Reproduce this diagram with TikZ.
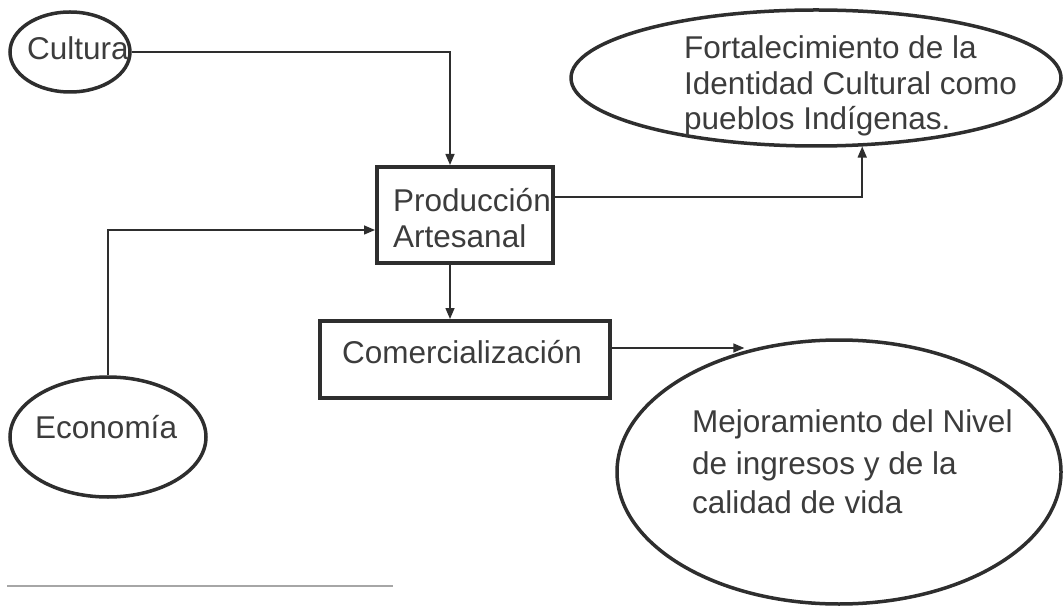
\documentclass[tikz,border=0pt]{standalone}
\usepackage{fontspec}
\setmainfont{Liberation Sans}
\usetikzlibrary{shapes.geometric,arrows.meta}
\definecolor{ink}{HTML}{2E2E2E}
\definecolor{txt}{HTML}{3C3C3C}
\begin{document}
\begin{tikzpicture}[x=1pt,y=-1pt,
  every node/.style={inner sep=0pt},
  oval/.style={ellipse,draw=ink,line width=3.5pt},
  boxnode/.style={rectangle,draw=ink,line width=4pt},
  lbl/.style={anchor=base west,text=txt,font=\fontsize{31.5}{35}\selectfont},
  conn/.style={draw=ink,line width=1.5pt,-{Triangle[length=11pt,width=9pt]}},
  rule/.style={draw=gray!70,line width=1.5pt}]
\useasboundingbox (0,0) rectangle (1064,609);
% shapes
\node[oval,minimum width=120pt,minimum height=80pt] (cul) at (70,52) {};
\node[oval,minimum width=196pt,minimum height=120pt] (eco) at (108,437) {};
\node[oval,minimum width=490pt,minimum height=136pt] (fort) at (816,78) {};
\node[oval,minimum width=444pt,minimum height=264pt] (mej) at (839,472) {};
\node[boxnode,minimum width=176pt,minimum height=96pt] (prod) at (465,215) {};
\node[boxnode,minimum width=290pt,minimum height=77pt] (com) at (465,359.5) {};
% texts
\node[lbl] (tcul) at (27,60) {Cultura};
\node[lbl] (teco) at (35,438) {Economía};
\node[lbl] (tp1) at (393,212) {Producción};
\node[lbl] (tp2) at (393,248) {Artesanal};
\node[lbl] (tcom) at (342,363) {Comercialización};
\node[lbl] (tf1) at (684,59) {Fortalecimiento de la};
\node[lbl] (tf2) at (684,95) {Identidad Cultural como};
\node[lbl] (tf3) at (684,130) {pueblos Indígenas.};
\node[lbl] (tm1) at (692,432) {Mejoramiento del Nivel};
\node[lbl] (tm2) at (692,474) {de ingresos y de la};
\node[lbl] (tm3) at (692,513) {calidad de vida};
% connectors
\draw[conn] (cul.east) -| ([xshift=-15pt]prod.north);
\draw[conn] (eco.north) |- ([yshift=-15pt]prod.west);
\draw[conn] ([yshift=18pt]prod.east) -| (fort.-56.3);
\draw[conn] ([xshift=-15pt]prod.south) -- ([xshift=-15pt]com.north);
\draw[conn] ([yshift=11.5pt]com.east) -- ([yshift=11.5pt]com.east -| mej.128);
% footnote rule
\coordinate (r1) at (7,586);
\coordinate (r2) at (393,586);
\draw[rule] (r1) -- (r2);
\end{tikzpicture}
\end{document}
